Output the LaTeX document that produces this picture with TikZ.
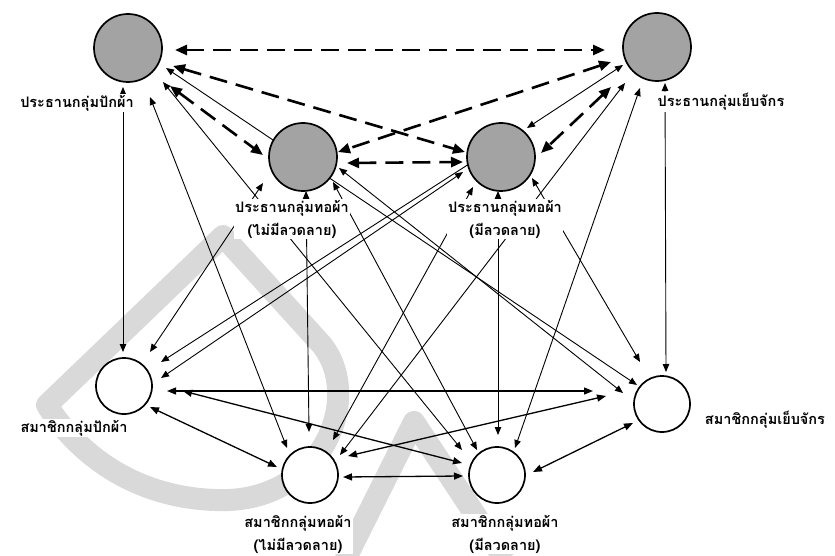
\documentclass[tikz,border=0pt]{standalone}
\usepackage{fontspec}
\newfontfamily\thai[Script=Thai]{Loma}
\usetikzlibrary{arrows.meta}
\pgfdeclarelayer{wm}
\pgfdeclarelayer{bg}
\pgfsetlayers{wm,bg,main}
\begin{document}
\begin{tikzpicture}[x=1pt,y=-1pt,
  pres/.style={circle,draw,line width=1.7pt,fill=black!36,minimum size=68pt,inner sep=0pt},
  mem/.style={circle,draw,line width=1.7pt,fill=white,minimum size=56pt,inner sep=0pt},
  lab/.style={font=\thai\bfseries\fontsize{14.5}{23}\selectfont,fill=white,inner sep=1pt,align=center},
  tl/.style={line width=0.9pt,>={Triangle[length=8pt,width=6.5pt]},<->},
  ml/.style={line width=1.3pt,>={Triangle[length=9pt,width=7pt]},<->},
  dl/.style={line width=2.6pt,dash pattern=on 18pt off 9pt,>={Triangle[length=12pt,width=10pt]},<->},
  wmark/.style={line width=22pt,draw=black!15,line join=round}]
\useasboundingbox (0,0) rectangle (835,556);
% nodes
\node[pres] (PA) at (128,48) {};
\node[pres] (PS) at (657,47) {};
\node[pres] (PW1) at (303,157) {};
\node[pres] (PW2) at (501,157) {};
\node[mem] (MA) at (124,386) {};
\node[mem] (MW1) at (310,475) {};
\node[mem] (MW2) at (497,475) {};
\node[mem] (MS) at (662,404) {};
% watermark
\begin{pgfonlayer}{wm}
\draw[wmark] (47,405) -- (223,236) -- (322,345) .. controls (365,400) and (320,505) .. (215,500) .. controls (130,497) and (75,450) .. cycle;
\draw[wmark] (345,560) -- (414,422) -- (505,560);
\end{pgfonlayer}
\begin{pgfonlayer}{bg}
% president - member (thin)
\draw[tl] ([shift={(-5,39)}]PA.center) -- ([shift={(-1,-34)}]MA.center);
\draw[tl] ([shift={(22,49)}]PA.center) -- ([shift={(-23,-27)}]MW1.center);
\draw[tl] ([shift={(35,34)}]PA.center) -- ([shift={(-35,-25)}]MW2.center);
\draw[tl] ([shift={(38,20)}]PA.center) -- ([shift={(-25,-19)}]MS.center);
\draw[tl] ([shift={(-40,26)}]PW1.center) -- ([shift={(26,-34)}]MA.center);
\draw[tl] ([shift={(3,34)}]PW1.center) -- ([shift={(-1,-43)}]MW1.center);
\draw[tl] ([shift={(30,25)}]PW1.center) -- ([shift={(-20,-25)}]MW2.center);
\draw[tl] ([shift={(36,11)}]PW1.center) -- ([shift={(-39,-11)}]MS.center);
\draw[tl] ([shift={(-38,15)}]PW2.center) -- ([shift={(37,-8)}]MA.center);
\draw[tl] ([shift={(-28,30)}]PW2.center) -- ([shift={(23,-35)}]MW1.center);
\draw[tl] ([shift={(-3,34)}]PW2.center) -- ([shift={(1,-40)}]MW2.center);
\draw[tl] ([shift={(31,21)}]PW2.center) -- ([shift={(-22,-42)}]MS.center);
\draw[tl] ([shift={(-34,18)}]PS.center) -- ([shift={(26,-29)}]PW2.center);
\draw[tl,->] ([shift={(-11,-6.5)}]PW2.center) -- ([shift={(37,-24)}]MA.center);
\draw[tl] ([shift={(-32,36)}]PS.center) -- ([shift={(30,-20)}]MW1.center);
\draw[tl] ([shift={(-17,41)}]PS.center) -- ([shift={(18,-27)}]MW2.center);
\draw[tl] ([shift={(8,36)}]PS.center) -- ([shift={(4,-32)}]MS.center);
% member - member
\draw[ml] ([shift={(43,5)}]MA.center) -- ([shift={(-69,-13)}]MS.center);
\draw[ml] ([shift={(59,5)}]MA.center) -- ([shift={(-35,-12)}]MW2.center);
\draw[ml] ([shift={(26,21)}]MA.center) -- ([shift={(-33,-8)}]MW1.center);
\draw[ml] ([shift={(33,2)}]MW1.center) -- ([shift={(-34,1)}]MW2.center);
\draw[ml] ([shift={(38,-19)}]MW1.center) -- ([shift={(-56,-8)}]MS.center);
\draw[ml] ([shift={(36,-3)}]MW2.center) -- ([shift={(-29,19)}]MS.center);
% president - president (dashed)
\draw[dl] ([shift={(47,2)}]PA.center) -- ([shift={(-52,3)}]PS.center);
\draw[dl] ([shift={(45,18)}]PA.center) -- ([shift={(-36,-5)}]PW2.center);
\draw[dl] ([shift={(42,38)}]PA.center) -- ([shift={(-40,-2)}]PW1.center);
\draw[dl] ([shift={(-46,15)}]PS.center) -- ([shift={(35,-5)}]PW1.center);
\draw[dl] ([shift={(-46,40)}]PS.center) -- ([shift={(40,-4)}]PW2.center);
\draw[dl] ([shift={(44,6)}]PW1.center) -- ([shift={(-38,5)}]PW2.center);
\end{pgfonlayer}
% labels
\node[lab] (lPA) at (77,103) {ประธานกลุ่มปักผ้า};
\node[lab] (lPS) at (721,102) {ประธานกลุ่มเย็บจักร};
\node[lab] (lPW1) at (292,219) {ประธานกลุ่มทอผ้า\\(ไม่มีลวดลาย)};
\node[lab] (lPW2) at (505,219) {ประธานกลุ่มทอผ้า\\(มีลวดลาย)};
\node[lab] (lMA) at (74,428) {สมาชิกกลุ่มปักผ้า};
\node[lab] (lMW1) at (298,534) {สมาชิกกลุ่มทอผ้า\\(ไม่มีลวดลาย)};
\node[lab] (lMW2) at (505,534) {สมาชิกกลุ่มทอผ้า\\(มีลวดลาย)};
\node[lab] (lMS) at (765,420) {สมาชิกกลุ่มเย็บจักร};
\end{tikzpicture}
\end{document}
